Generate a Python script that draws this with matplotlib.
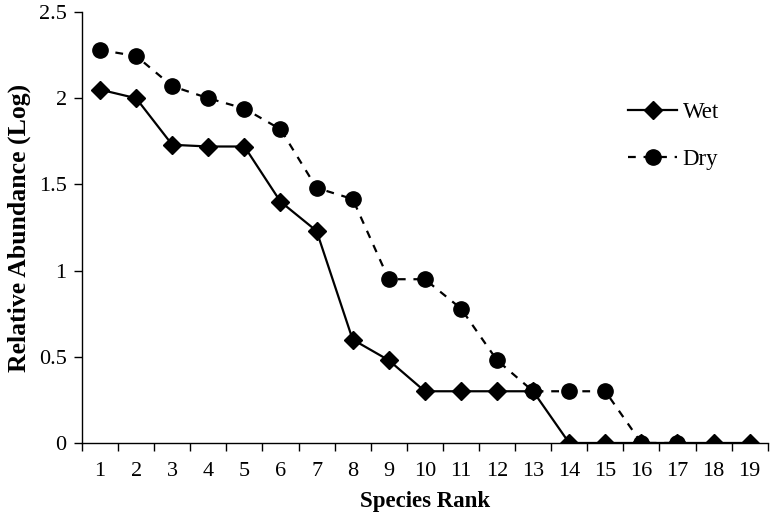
import numpy as np
import matplotlib
matplotlib.use("Agg")
import matplotlib.pyplot as plt

plt.rcParams['font.family'] = ['Liberation Serif', 'DejaVu Serif']

# species rank vs log abundance
ranks = list(range(1, 20))
wet = [2.05, 2.00, 1.73, 1.72, 1.72, 1.40, 1.23, 0.60, 0.48, 0.30,
       0.30, 0.30, 0.30, 0, 0, 0, 0, 0, 0]
dry_ranks = list(range(1, 18))
dry = [2.28, 2.245, 2.07, 2.00, 1.94, 1.82, 1.48, 1.415, 0.95, 0.95,
       0.78, 0.48, 0.30, 0.30, 0.30, 0, 0]

fig = plt.figure(figsize=(7.7, 5.13), dpi=100)
ax = fig.add_axes([0.1065, 0.1365, 0.8905, 0.84])

ax.plot(ranks, wet, color='black', lw=1.6, marker='D', ms=9,
        label='Wet', zorder=3)
ax.plot(dry_ranks, dry, color='black', lw=1.6, ls=(0, (3.5, 3.5)), marker='o',
        ms=11, label='Dry', zorder=3)

ax.set_xlim(0.5, 19.5)
ax.set_ylim(0, 2.5)
ax.set_yticks([0, 0.5, 1, 1.5, 2, 2.5])
ax.set_yticklabels(['0', '0.5', '1', '1.5', '2', '2.5'])
ax.set_xticks(ranks)
ax.set_xticks(np.arange(0.5, 20, 1), minor=True)
ax.tick_params(axis='x', which='major', length=0, pad=14, labelsize=16)
ax.tick_params(axis='x', which='minor', length=6, width=1, direction='out')
ax.tick_params(axis='y', length=6, width=1, direction='out', labelsize=16, pad=5)

for s in ['top', 'right']:
    ax.spines[s].set_visible(False)
ax.spines['left'].set_linewidth(1)
ax.spines['bottom'].set_linewidth(1)

ax.set_xlabel('Species Rank', fontsize=16.5, fontweight='bold', labelpad=7)
ax.set_ylabel('Relative Abundance (Log)', fontsize=18.5, fontweight='bold', labelpad=6)

leg = ax.legend(loc='center left', bbox_to_anchor=(0.8156, 0.735),
                bbox_transform=fig.transFigure, frameon=False, borderpad=0,
                borderaxespad=0, fontsize=16.5, handlelength=2.14,
                labelspacing=1.15, handletextpad=0.25)

fig.savefig('out.png', dpi=100)
